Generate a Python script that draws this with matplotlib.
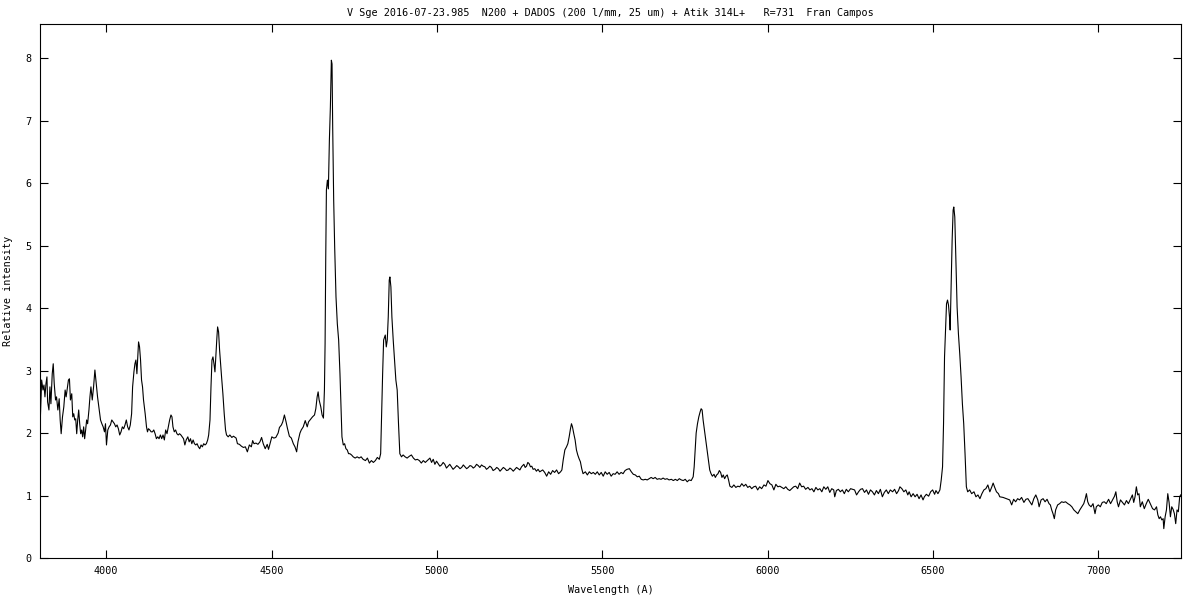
import matplotlib
matplotlib.use("Agg")
import matplotlib.pyplot as plt
import numpy as np

# spectrum, split in pieces (wavelength A, relative intensity)
blue_end = [
    (3801, 2.23), (3805, 2.85), (3809, 2.69), (3812, 2.77), (3815, 2.58), (3818, 2.79), (3821, 2.90),
    (3823, 2.50), (3827, 2.37), (3830, 2.74), (3833, 2.47), (3837, 2.95), (3840, 3.11), (3843, 2.79),
    (3847, 2.53), (3850, 2.58), (3854, 2.37), (3858, 2.55), (3861, 2.21), (3864, 1.99), (3868, 2.26),
    (3872, 2.42), (3876, 2.69), (3879, 2.58), (3883, 2.74), (3886, 2.85), (3889, 2.87), (3892, 2.53),
    (3896, 2.63), (3899, 2.26), (3902, 2.31), (3905, 2.21), (3908, 2.23), (3911, 1.99), (3914, 2.21),
    (3917, 2.37), (3920, 2.15), (3923, 1.99), (3926, 2.05), (3929, 1.94), (3932, 2.10), (3935, 1.91),
    (3938, 2.05), (3941, 2.21), (3944, 2.15), (3948, 2.37), (3951, 2.58), (3954, 2.74), (3958, 2.53),
    (3962, 2.74), (3966, 3.01), (3970, 2.79), (3974, 2.58), (3978, 2.42), (3983, 2.21), (3987, 2.15),
    (3991, 2.10), (3995, 2.02), (3998, 2.15), (4001, 1.81), (4005, 2.05), (4009, 2.10), (4013, 2.13),
    (4017, 2.21), (4021, 2.18), (4025, 2.15), (4029, 2.10), (4033, 2.13), (4037, 2.07), (4041, 1.97),
    (4045, 2.02), (4049, 2.10), (4053, 2.07), (4057, 2.13), (4061, 2.21), (4065, 2.10), (4069, 2.05),
    (4073, 2.13), (4077, 2.31), (4080, 2.74), (4084, 2.98), (4087, 3.11), (4090, 3.17), (4093, 2.95),
    (4096, 3.27), (4098, 3.46), (4101, 3.38), (4104, 3.17), (4107, 2.85), (4110, 2.74), (4113, 2.53),
    (4118, 2.31), (4122, 2.10), (4125, 2.02), (4128, 2.07), (4132, 2.05), (4136, 2.02), (4140, 2.02),
    (4144, 2.05), (4148, 1.99), (4152, 1.91), (4156, 1.94), (4160, 1.91), (4164, 1.97), (4168, 1.91),
    (4172, 1.97), (4176, 1.89), (4180, 2.05), (4184, 1.99), (4188, 2.10), (4192, 2.21), (4196, 2.29),
    (4199, 2.26), (4202, 2.10), (4206, 2.02), (4210, 2.05), (4214, 1.99), (4218, 1.97), (4222, 1.99),
    (4226, 1.97), (4230, 1.94), (4234, 1.91), (4238, 1.81), (4242, 1.89), (4247, 1.94), (4251, 1.86),
    (4255, 1.91), (4259, 1.83), (4263, 1.89), (4267, 1.83), (4271, 1.81), (4275, 1.83), (4279, 1.78),
    (4283, 1.75), (4287, 1.81), (4291, 1.78), (4295, 1.83), (4299, 1.81), (4303, 1.83), (4307, 1.89),
    (4310, 1.97), (4314, 2.21), (4317, 2.74), (4320, 3.17), (4323, 3.22), (4326, 3.11), (4329, 2.98),
    (4332, 3.27), (4335, 3.54), (4337, 3.70), (4340, 3.62), (4343, 3.33), (4346, 3.11), (4349, 2.90),
    (4353, 2.63), (4357, 2.31), (4361, 2.05), (4364, 1.97), (4369, 1.94), (4374, 1.97), (4380, 1.93),
    (4385, 1.95),
]
heii_wing = [
    (4393, 1.92), (4397, 1.83), (4403, 1.82), (4409, 1.79), (4415, 1.77), (4421, 1.78), (4427, 1.70),
    (4433, 1.81), (4439, 1.78), (4443, 1.88), (4447, 1.83), (4453, 1.84), (4459, 1.82), (4465, 1.86),
    (4470, 1.93), (4475, 1.83), (4481, 1.75), (4487, 1.82), (4491, 1.74), (4497, 1.86), (4501, 1.94),
    (4507, 1.92), (4513, 1.93), (4520, 2.00), (4524, 2.09), (4530, 2.13), (4534, 2.18), (4539, 2.29),
    (4544, 2.18), (4548, 2.08), (4554, 1.95), (4560, 1.92), (4566, 1.83), (4571, 1.78), (4576, 1.70),
    (4580, 1.86), (4586, 2.00), (4590, 2.05), (4596, 2.10), (4602, 2.20), (4608, 2.10), (4612, 2.18),
    (4618, 2.22), (4624, 2.26), (4630, 2.29), (4634, 2.39), (4638, 2.58), (4641, 2.66), (4644, 2.53),
    (4649, 2.42), (4653, 2.29), (4657, 2.24),
]
heii_hbeta = [
    (4660, 2.69), (4662, 3.43), (4664, 4.82), (4666, 5.89), (4669, 6.05), (4672, 5.91), (4675, 6.69),
    (4678, 7.22), (4681, 7.97), (4683, 7.91), (4685, 6.90), (4688, 5.73), (4691, 4.98), (4695, 4.18),
    (4699, 3.75), (4703, 3.49), (4707, 2.95), (4710, 2.42), (4713, 1.94), (4717, 1.81), (4721, 1.83),
    (4725, 1.75), (4729, 1.73), (4733, 1.67), (4737, 1.67), (4742, 1.65), (4747, 1.62), (4753, 1.60),
    (4759, 1.62), (4765, 1.60), (4771, 1.62), (4777, 1.58), (4784, 1.56), (4790, 1.60), (4796, 1.52),
    (4802, 1.56), (4808, 1.53), (4814, 1.56), (4820, 1.61), (4826, 1.58), (4830, 1.67), (4833, 2.31),
    (4836, 2.95), (4839, 3.49), (4842, 3.54), (4844, 3.57), (4847, 3.38), (4850, 3.49), (4853, 3.86),
    (4856, 4.45), (4858, 4.50), (4861, 4.34), (4864, 3.86), (4868, 3.49), (4872, 3.17), (4876, 2.85),
    (4880, 2.69), (4884, 2.15), (4888, 1.67), (4893, 1.62), (4898, 1.65), (4904, 1.62), (4910, 1.60),
    (4917, 1.63), (4923, 1.65), (4929, 1.60), (4935, 1.57), (4941, 1.58), (4947, 1.56), (4953, 1.52),
    (4959, 1.56), (4965, 1.53), (4973, 1.57),
]
green = [
    (4979, 1.60), (4984, 1.53), (4989, 1.58), (4994, 1.50), (4999, 1.55), (5004, 1.51), (5009, 1.47),
    (5014, 1.49), (5019, 1.53), (5024, 1.50), (5029, 1.44), (5034, 1.47), (5039, 1.50), (5044, 1.46),
    (5049, 1.42), (5055, 1.45), (5060, 1.48), (5065, 1.46), (5070, 1.43), (5075, 1.45), (5080, 1.49),
    (5085, 1.46), (5090, 1.43), (5095, 1.45), (5100, 1.48), (5105, 1.47), (5110, 1.44), (5115, 1.46),
    (5120, 1.50), (5125, 1.48), (5130, 1.45), (5135, 1.49), (5140, 1.47), (5145, 1.46), (5150, 1.42),
    (5155, 1.44), (5160, 1.47), (5165, 1.45), (5170, 1.40), (5176, 1.42), (5181, 1.45), (5186, 1.43),
    (5191, 1.39), (5196, 1.42), (5201, 1.45), (5206, 1.43), (5211, 1.40), (5216, 1.41), (5221, 1.44),
    (5226, 1.42), (5231, 1.39), (5236, 1.42), (5241, 1.45), (5246, 1.43), (5251, 1.41), (5256, 1.46),
    (5263, 1.50), (5267, 1.45), (5271, 1.47), (5275, 1.53), (5279, 1.51), (5283, 1.46), (5287, 1.47),
    (5291, 1.42), (5296, 1.43), (5301, 1.39), (5306, 1.42),
]
yellow = [
    (5311, 1.38), (5320, 1.41), (5326, 1.37), (5332, 1.31), (5338, 1.38), (5344, 1.34), (5350, 1.40),
    (5356, 1.37), (5362, 1.41), (5368, 1.35), (5374, 1.38), (5378, 1.41), (5382, 1.57), (5387, 1.73),
    (5392, 1.78), (5396, 1.83), (5400, 1.94), (5404, 2.07), (5407, 2.15), (5410, 2.10), (5414, 1.99),
    (5418, 1.89), (5422, 1.73), (5426, 1.65), (5430, 1.59), (5434, 1.54), (5438, 1.43), (5442, 1.35),
    (5449, 1.38), (5455, 1.33), (5461, 1.38), (5467, 1.35), (5473, 1.37), (5479, 1.34), (5485, 1.38),
    (5491, 1.33), (5497, 1.37), (5503, 1.31), (5509, 1.38), (5515, 1.34), (5521, 1.37), (5527, 1.31),
    (5533, 1.35), (5539, 1.34), (5545, 1.38), (5551, 1.34), (5557, 1.37), (5563, 1.35), (5569, 1.40),
    (5575, 1.42), (5582, 1.43), (5588, 1.38), (5594, 1.34), (5600, 1.33), (5606, 1.30), (5612, 1.31),
    (5618, 1.26), (5624, 1.25), (5630, 1.26), (5636, 1.25), (5642, 1.27), (5648, 1.29), (5654, 1.27),
    (5660, 1.29), (5666, 1.26), (5672, 1.27), (5678, 1.26), (5684, 1.28), (5690, 1.26), (5696, 1.27),
    (5702, 1.25), (5709, 1.26), (5715, 1.24), (5721, 1.26), (5727, 1.24), (5733, 1.27), (5739, 1.25),
    (5745, 1.24), (5751, 1.26), (5757, 1.22), (5763, 1.25), (5769, 1.24), (5775, 1.30), (5778, 1.46),
    (5781, 1.73), (5784, 2.00), (5788, 2.15), (5792, 2.26), (5796, 2.34), (5799, 2.39), (5802, 2.37),
    (5805, 2.21), (5809, 2.05), (5813, 1.89), (5817, 1.73), (5821, 1.57), (5825, 1.41), (5829, 1.35),
    (5833, 1.31), (5838, 1.34), (5842, 1.29), (5846, 1.33), (5850, 1.35), (5854, 1.40), (5858, 1.37),
    (5862, 1.29), (5866, 1.33), (5870, 1.27), (5874, 1.31), (5878, 1.33), (5882, 1.25), (5886, 1.15),
    (5892, 1.13), (5898, 1.17), (5904, 1.13), (5910, 1.15),
]
orange = [
    (5916, 1.14), (5922, 1.19), (5928, 1.15), (5934, 1.18), (5940, 1.13), (5946, 1.15), (5952, 1.11),
    (5958, 1.14), (5964, 1.15), (5970, 1.09), (5976, 1.14), (5982, 1.11), (5989, 1.17), (5995, 1.15),
    (6001, 1.24), (6007, 1.19), (6013, 1.17), (6019, 1.09), (6025, 1.18), (6031, 1.14), (6037, 1.15),
    (6043, 1.13), (6049, 1.11), (6055, 1.14), (6061, 1.10), (6067, 1.08), (6073, 1.11), (6079, 1.14),
    (6085, 1.15), (6091, 1.11), (6097, 1.20), (6103, 1.14), (6109, 1.15), (6115, 1.10), (6122, 1.13),
    (6128, 1.09), (6134, 1.11), (6140, 1.06), (6146, 1.13), (6152, 1.09), (6158, 1.11), (6164, 1.06),
    (6170, 1.14), (6176, 1.10), (6182, 1.14), (6188, 1.05), (6194, 1.11), (6200, 1.09), (6203, 0.98),
    (6208, 1.08), (6214, 1.10), (6220, 1.06), (6226, 1.09), (6232, 1.03), (6238, 1.10), (6244, 1.06),
    (6251, 1.11), (6257, 1.10), (6263, 1.09), (6269, 1.01), (6275, 1.06), (6281, 1.10), (6287, 1.11),
    (6293, 1.05), (6299, 1.09), (6305, 1.02), (6311, 1.09), (6317, 1.06), (6323, 1.01), (6329, 1.08),
    (6335, 1.03), (6341, 1.10), (6347, 0.98), (6353, 1.05), (6359, 1.09), (6365, 1.03), (6371, 1.09),
    (6378, 1.06), (6384, 1.10), (6390, 1.03), (6396, 1.08),
]
halpha = [
    (6400, 1.14), (6406, 1.11), (6412, 1.06), (6418, 1.09), (6424, 1.01), (6428, 1.06), (6434, 0.98),
    (6440, 1.03), (6446, 0.98), (6452, 1.02), (6458, 0.95), (6464, 1.01), (6470, 0.93), (6474, 0.98),
    (6480, 1.02), (6487, 0.99), (6493, 1.06), (6499, 1.09), (6505, 1.02), (6509, 1.08), (6515, 1.03),
    (6521, 1.09), (6525, 1.25), (6529, 1.46), (6532, 2.15), (6535, 3.22), (6538, 3.65), (6541, 4.07),
    (6544, 4.13), (6547, 4.05), (6550, 3.86), (6552, 3.65), (6555, 4.39), (6558, 5.09), (6561, 5.57),
    (6563, 5.62), (6566, 5.46), (6569, 4.82), (6573, 4.02), (6577, 3.59), (6581, 3.27), (6585, 2.90),
    (6589, 2.47), (6593, 2.15), (6597, 1.67), (6601, 1.14), (6605, 1.06), (6611, 1.09), (6617, 1.03),
    (6624, 1.06), (6630, 0.98), (6636, 1.01), (6642, 0.95), (6648, 1.03), (6654, 1.09), (6660, 1.11),
    (6666, 1.17), (6672, 1.06), (6678, 1.14), (6682, 1.20), (6686, 1.14), (6692, 1.06), (6698, 1.03),
]
red_end = [
    (6702, 0.98), (6712, 0.97), (6722, 0.95), (6732, 0.93), (6738, 0.85), (6744, 0.94), (6750, 0.90),
    (6756, 0.95), (6762, 0.93), (6768, 0.97), (6775, 0.89), (6781, 0.94), (6787, 0.95), (6793, 0.90),
    (6799, 0.85), (6805, 0.95), (6811, 1.01), (6817, 0.93), (6821, 0.82), (6827, 0.93), (6833, 0.95),
    (6839, 0.90), (6845, 0.94), (6851, 0.87), (6855, 0.85), (6859, 0.77), (6863, 0.71), (6867, 0.63),
    (6871, 0.77), (6877, 0.85), (6883, 0.87), (6889, 0.90), (6895, 0.89), (6901, 0.90), (6908, 0.87),
    (6914, 0.85), (6920, 0.82), (6926, 0.77), (6932, 0.74), (6938, 0.71), (6944, 0.77), (6950, 0.82),
    (6956, 0.87), (6960, 0.94), (6964, 1.03), (6968, 0.90), (6972, 0.85), (6978, 0.82), (6984, 0.87),
    (6990, 0.71), (6994, 0.82), (7000, 0.85), (7006, 0.82), (7012, 0.89), (7018, 0.90), (7024, 0.87),
    (7031, 0.94), (7037, 0.87), (7043, 0.93), (7049, 0.99), (7053, 1.06), (7057, 0.90), (7061, 0.82),
    (7067, 0.93), (7073, 0.89), (7079, 0.85), (7085, 0.92), (7091, 0.87), (7097, 0.94), (7103, 1.01),
    (7107, 0.89), (7111, 0.98), (7115, 1.14), (7119, 1.01), (7123, 1.03), (7127, 0.82), (7133, 0.90),
    (7139, 0.79), (7145, 0.87), (7151, 0.94), (7157, 0.87), (7164, 0.79), (7170, 0.77), (7176, 0.82),
    (7180, 0.69), (7184, 0.63), (7188, 0.66), (7192, 0.61), (7196, 0.63), (7198, 0.47), (7202, 0.66),
    (7206, 0.77), (7210, 1.03), (7214, 0.89), (7218, 0.66), (7222, 0.82), (7226, 0.78), (7230, 0.71),
    (7234, 0.55), (7238, 0.77), (7242, 0.74), (7246, 0.98), (7249, 1.01),
]

xticks = [4000, 4500, 5000, 5500, 6000, 6500, 7000]
yticks = [0, 1, 2, 3, 4, 5, 6, 7, 8]
title = "V Sge 2016-07-23.985  N200 + DADOS (200 l/mm, 25 um) + Atik 314L+   R=731  Fran Campos"

spec = np.array(blue_end + heii_wing + heii_hbeta + green + yellow + orange + halpha + red_end)

plt.rcParams['font.family'] = 'DejaVu Sans Mono'
plt.rcParams['font.size'] = 7.3

fig = plt.figure(figsize=(12, 6), dpi=100)
ax = fig.add_axes([40/1200, 42/600, 1141/1200, 534/600])
ax.plot(spec[:, 0], spec[:, 1], color='black', lw=0.8)

ax.set_xlim(3800, 7250)
ax.set_ylim(0, 8.55)
ax.set_xticks(xticks)
ax.set_yticks(yticks)
ax.tick_params(direction='in', length=6, width=0.8, top=True, right=True, pad=6)
for s in ax.spines.values():
    s.set_linewidth(0.8)

ax.set_title(title, fontsize=7.3, pad=6)
ax.set_xlabel("Wavelength (A)", labelpad=6)
ax.set_ylabel("Relative intensity", labelpad=9)

fig.savefig("out.png", dpi=100)
